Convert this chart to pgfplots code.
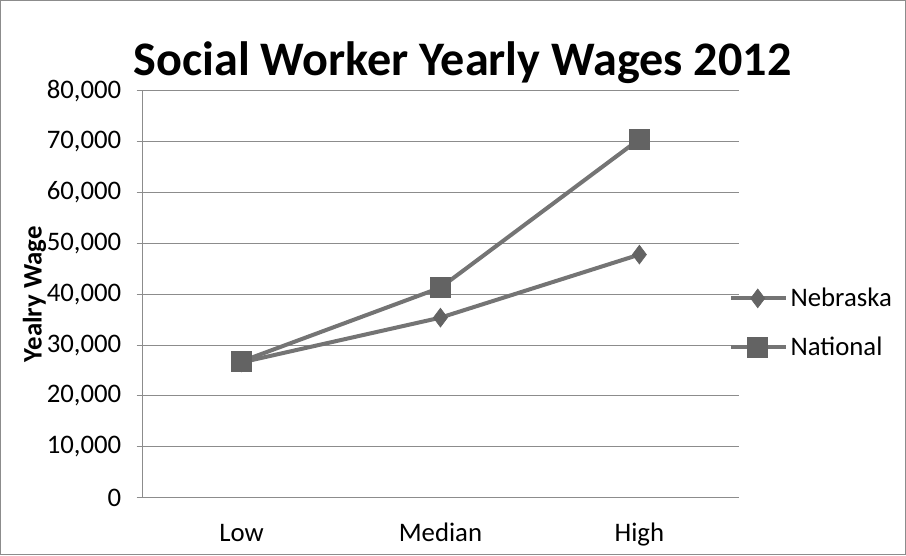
\documentclass[border=0pt]{standalone}
\usepackage{pgfplots}
\pgfplotsset{compat=1.18}
\usepackage{fontspec}
\setmainfont{Carlito}
\definecolor{linegray}{HTML}{747474}
\definecolor{markgray}{HTML}{636363}
\definecolor{gridgray}{HTML}{8C8C8C}
\begin{document}
\begin{tikzpicture}
\begin{axis}[
  name=ax,
  scale only axis,
  width=446pt, height=304pt,
  xmin=-0.5, xmax=2.5,
  ymin=0, ymax=80000,
  xtick={0,1,2},
  xticklabels={Low,Median,High},
  ytick={0,10000,...,80000},
  scaled y ticks=false,
  /pgf/number format/assume math mode=true,
  yticklabel={\pgfmathprintnumber[fixed,1000 sep={,}]{\tick}},
  ymajorgrids,
  grid style={gridgray, line width=0.7pt},
  axis x line*=bottom,
  axis y line*=left,
  axis line style={gridgray, line width=0.7pt},
  x axis line style={-},
  y axis line style={-},
  major tick length=4pt,
  ytick style={gridgray, line width=0.7pt},
  xtick style={draw=none},
  tick align=outside,
  tick label style={font=\fontsize{20}{23}\selectfont, text=black},
  yticklabel style={xshift=-8pt},
  xticklabel style={yshift=-11pt, text height=14pt, text depth=4pt},
  ylabel={Yealry Wage},
  ylabel style={at={(axis description cs:-0.18,0.5)}, anchor=center, font=\fontsize{20}{23}\selectfont\bfseries},
  title={Social Worker Yearly Wages 2012},
  title style={at={(axis description cs:0.537,1)}, anchor=center, yshift=15pt, font=\fontsize{36}{41}\selectfont\bfseries},
  legend style={at={(axis description cs:0.983,0.43)}, anchor=west, draw=none, fill=none,
    font=\fontsize{20}{23}\selectfont, row sep=17pt, inner sep=0pt,
    /tikz/every even column/.append style={column sep=3pt}},
  legend cell align=left,
  legend image code/.code={\draw[mark repeat=2, mark phase=2, #1] plot coordinates {(0pt,0pt) (20pt,0pt) (41pt,0pt)};},
  clip=false,
]
\addplot[linegray, line width=3pt, mark=diamond*, mark size=7pt, mark options={fill=markgray, draw=markgray, line width=0.5pt}]
  coordinates {(0,26600) (1,35400) (2,47800)};
\addlegendentry{Nebraska}
\addplot[linegray, line width=3pt, mark=square*, mark size=7.5pt, mark options={fill=markgray, draw=markgray, line width=0.5pt}]
  coordinates {(0,26800) (1,41300) (2,70500)};
\addlegendentry{National}
\end{axis}
\draw[gridgray, line width=0.8pt] ([xshift=-105.75pt, yshift=-42.75pt]ax.south west) rectangle ([xshift=124.5pt, yshift=67.5pt]ax.north east);
\end{tikzpicture}
\end{document}
